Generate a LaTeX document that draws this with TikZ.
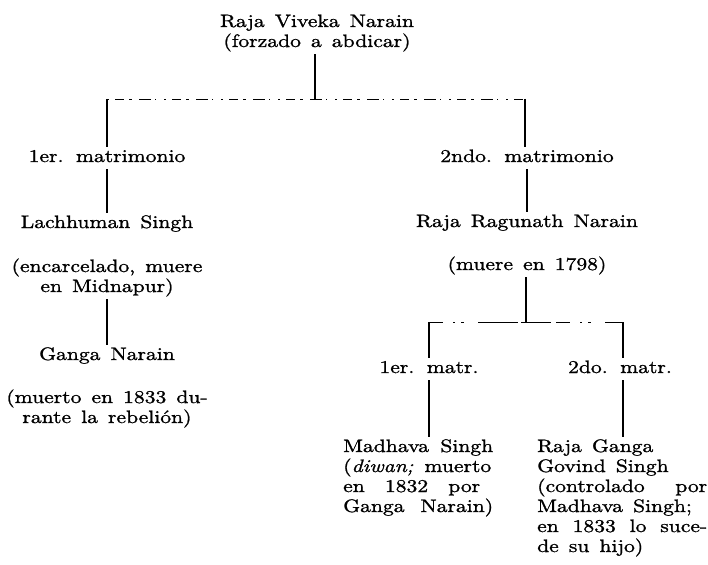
\documentclass[tikz,border=0pt]{standalone}
\usepackage{fontspec}
\setmainfont{lmroman10-regular.otf}[FakeStretch=1.2, FakeBold=1.2, WordSpace=1.4, ItalicFont=lmroman10-italic.otf, BoldFont=lmroman10-bold.otf]
\begin{document}
\begin{tikzpicture}[x=1pt,y=-1pt,
  font=\fontsize{18}{20}\selectfont,
  lbl/.style={inner sep=1pt, anchor=base},
  blk/.style={inner sep=1pt, anchor=base west},
  conn/.style={line width=1.2pt, black},
  broken/.style={line width=0.9pt, black, dash pattern=on 2pt off 6pt on 9pt off 5pt on 3pt off 7pt on 12pt off 4pt on 1pt off 8pt},
  broken2/.style={line width=0.9pt, black, dash pattern=on 14pt off 10pt on 2pt off 6pt on 3pt off 14pt on 40pt off 3pt on 30pt off 5pt}]
\useasboundingbox (0,0) rectangle (708,564);

% nodes
\node[lbl] (viveka) at (317,27) {\begin{tabular}[t]{@{}c@{}}Raja Viveka Narain\\(forzado a abdicar)\end{tabular}};

\node[lbl] (mat1) at (107,162) {\begin{tabular}[t]{@{}c@{}}1er. matrimonio\end{tabular}};
\node[lbl] (lach) at (107,228) {\begin{tabular}[t]{@{}c@{}}Lachhuman Singh\end{tabular}};
\node[lbl] (lachn) at (107,272) {\begin{tabular}[t]{@{}c@{}}(encarcelado, muere\\en Midnapur)\end{tabular}};
\node[lbl] (ganga) at (107,360) {\begin{tabular}[t]{@{}c@{}}Ganga Narain\end{tabular}};
\node[lbl] (gangan) at (107,403) {\begin{tabular}[t]{@{}c@{}}(muerto en 1833 du-\\rante la rebelión)\end{tabular}};

\node[lbl] (mat2) at (527,162) {\begin{tabular}[t]{@{}c@{}}2ndo. matrimonio\end{tabular}};
\node[lbl] (ragu) at (527,227) {\begin{tabular}[t]{@{}c@{}}Raja Ragunath Narain\end{tabular}};
\node[lbl] (ragun) at (527,270) {\begin{tabular}[t]{@{}c@{}}(muere en 1798)\end{tabular}};

\node[lbl] (m1) at (429,373) {\begin{tabular}[t]{@{}c@{}}1er. matr.\end{tabular}};
\node[lbl] (m2) at (620,373) {\begin{tabular}[t]{@{}c@{}}2do. matr.\end{tabular}};

\node[blk] (madhava) at (342,452) {\begin{tabular}[t]{@{}l@{}}
\makebox[150pt][s]{Madhava Singh}\\
\makebox[148pt][s]{(\textit{diwan;} muerto}\\
\makebox[137pt][s]{en 1832 por}\\
\makebox[150pt][s]{Ganga Narain)}\end{tabular}};

\node[blk] (govind) at (536,452) {\begin{tabular}[t]{@{}l@{}}
Raja Ganga\\
Govind Singh\\
\makebox[170pt][s]{(controlado por}\\
Madhava Singh;\\
\makebox[170pt][s]{en 1833 lo suce-}\\
de su hijo)\end{tabular}};

% junctions
\coordinate (jTop) at (315,99);
\coordinate (jL) at (107,99);
\coordinate (jR) at (525,99);
\coordinate (kTop) at (526,322);
\coordinate (kL) at (429,322);
\coordinate (kR) at (623,322);

% connectors
\draw[conn] (viveka.south -| jTop) -- (jTop);
\draw[broken] (jL) -- (jR);
\draw[conn] (jL) -- (jL |- mat1.north);
\draw[conn] (jR) -- (jR |- mat2.north);
\draw[conn] (mat1.south) -- (lach.north);
\draw[conn] (lachn.south) -- (ganga.north);
\draw[conn] (mat2.south) -- (ragu.north);
\draw[conn] (ragun.south -| kTop) -- (kTop);
\draw[broken2] (kL) -- (kR);
\draw[conn] (kL) -- (kL |- m1.north);
\draw[conn] (kR) -- (kR |- m2.north);
\draw[conn] (m1.south -| kL) -- (kL |- madhava.north);
\draw[conn] (m2.south -| kR) -- (kR |- govind.north);
\end{tikzpicture}
\end{document}
